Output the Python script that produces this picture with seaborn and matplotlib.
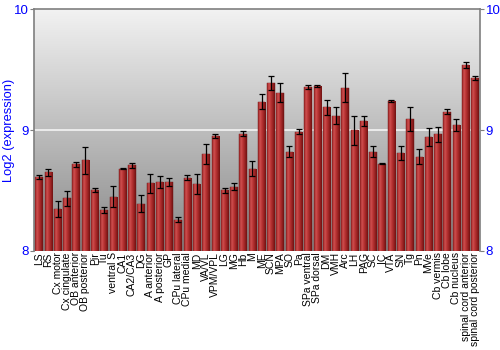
import numpy as np
import pandas as pd
import matplotlib
matplotlib.use("Agg")
import matplotlib.pyplot as plt
from matplotlib.colors import LinearSegmentedColormap
import seaborn as sns

# ── Data ──────────────────────────────────────────────────────
regions = [
    "LS", "RS", "Cx motor", "Cx cingulate", "OB anterior", "OB posterior",
    "Pir", "Tu", "ventral S", "CA1", "CA2/CA3", "DG", "A anterior",
    "A posterior", "GP", "CPu lateral", "CPu medial", "MD", "VA/VL",
    "VPM/VPL", "LG", "MG", "Hb", "M", "ME", "SCN", "MPA", "SO", "Pa",
    "SPa ventral", "SPa dorsal", "DM", "VMH", "Arc", "LH", "PAG", "SC",
    "IC", "VTA", "SN", "Tg", "Pn", "MVe", "Cb vermis", "Cb lobe",
    "Cb nucleus", "spinal cord anterior", "spinal cord posterior",
]
expression = [
    8.61, 8.65, 8.345, 8.435, 8.715, 8.75, 8.505, 8.34, 8.45, 8.68,
    8.71, 8.39, 8.56, 8.57, 8.57, 8.26, 8.605, 8.555, 8.80, 8.95,
    8.50, 8.53, 8.97, 8.68, 9.235, 9.39, 9.31, 8.82, 8.985, 9.355,
    9.365, 9.19, 9.12, 9.35, 9.00, 9.075, 8.82, 8.72, 9.24, 8.81,
    9.09, 8.78, 8.945, 8.965, 9.15, 9.04, 9.54, 9.43,
]
error = [
    0.018, 0.028, 0.065, 0.06, 0.02, 0.11, 0.017, 0.023, 0.087, 0.005,
    0.02, 0.072, 0.08, 0.047, 0.036, 0.018, 0.02, 0.08, 0.084, 0.017,
    0.017, 0.03, 0.02, 0.062, 0.062, 0.055, 0.076, 0.047, 0.02, 0.017,
    0.011, 0.062, 0.073, 0.12, 0.12, 0.045, 0.047, 0.005, 0.008, 0.06,
    0.10, 0.064, 0.073, 0.062, 0.02, 0.052, 0.023, 0.017,
]

df = pd.DataFrame({"region": regions, "expr": expression, "err": error})

BLUE = "#0000FF"
GRID = "#7f7f7f"
plt.rcParams["font.family"] = ["Liberation Sans", "DejaVu Sans"]

fig = plt.figure(figsize=(5, 3.5), dpi=100, facecolor="white")
ax = fig.add_axes([0.068, 0.283, 0.892, 0.691])

sns.barplot(data=df, x="region", y="expr", color="#a82a2a", width=0.8,
            errorbar=None, ax=ax, zorder=2, edgecolor="#6a1010", linewidth=0.3)

# background gradient (light top, grey bottom)
bg = LinearSegmentedColormap.from_list("bg", ["#888888", "#f2f2f2"])
ax.imshow(np.linspace(0, 1, 256).reshape(-1, 1), cmap=bg, origin="lower",
          extent=[0, 1, 0, 1], transform=ax.transAxes, aspect="auto", zorder=0)
ax.axhline(9, color="#f4f4f4", lw=1.2, zorder=1)

# shaded bars (light left edge, dark right edge)
barmap = LinearSegmentedColormap.from_list(
    "bar", ["#8a1c1c", "#d05050", "#b83434", "#9a2222", "#6e1212"])
grad = np.linspace(0, 1, 64).reshape(1, -1)
for patch in ax.patches:
    x0, w, h = patch.get_x(), patch.get_width(), patch.get_height()
    im = ax.imshow(grad, cmap=barmap, extent=[x0, x0 + w, 8, h],
                   aspect="auto", zorder=2.5)
    im.set_clip_path(patch)
ax.set_xlim(-0.55, len(regions) - 0.45)
ax.set_ylim(8, 10)

ax.errorbar(np.arange(len(regions)), df["expr"], yerr=df["err"], fmt="none",
            ecolor="black", elinewidth=0.9, capsize=2.2, capthick=0.9, zorder=3)

# axes styling
for side in ["left", "right", "top"]:
    ax.spines[side].set_color(GRID)
    ax.spines[side].set_linewidth(1.2)
ax.spines["bottom"].set_visible(False)

ax.set_yticks([8, 9, 10])
ax.tick_params(axis="y", which="both", left=True, right=True,
               labelleft=True, labelright=True, labelcolor=BLUE,
               labelsize=9.5, color=GRID, length=3, pad=1)
ax.tick_params(axis="x", length=0, labelsize=7.5, pad=1, rotation=90)
ax.set_xlabel("")
ax.set_ylabel("Log2 (expression)", color=BLUE, fontsize=9.3)
ax.yaxis.set_label_coords(-0.043, 0.5)

plt.savefig("out.png", dpi=100)
plt.close()
